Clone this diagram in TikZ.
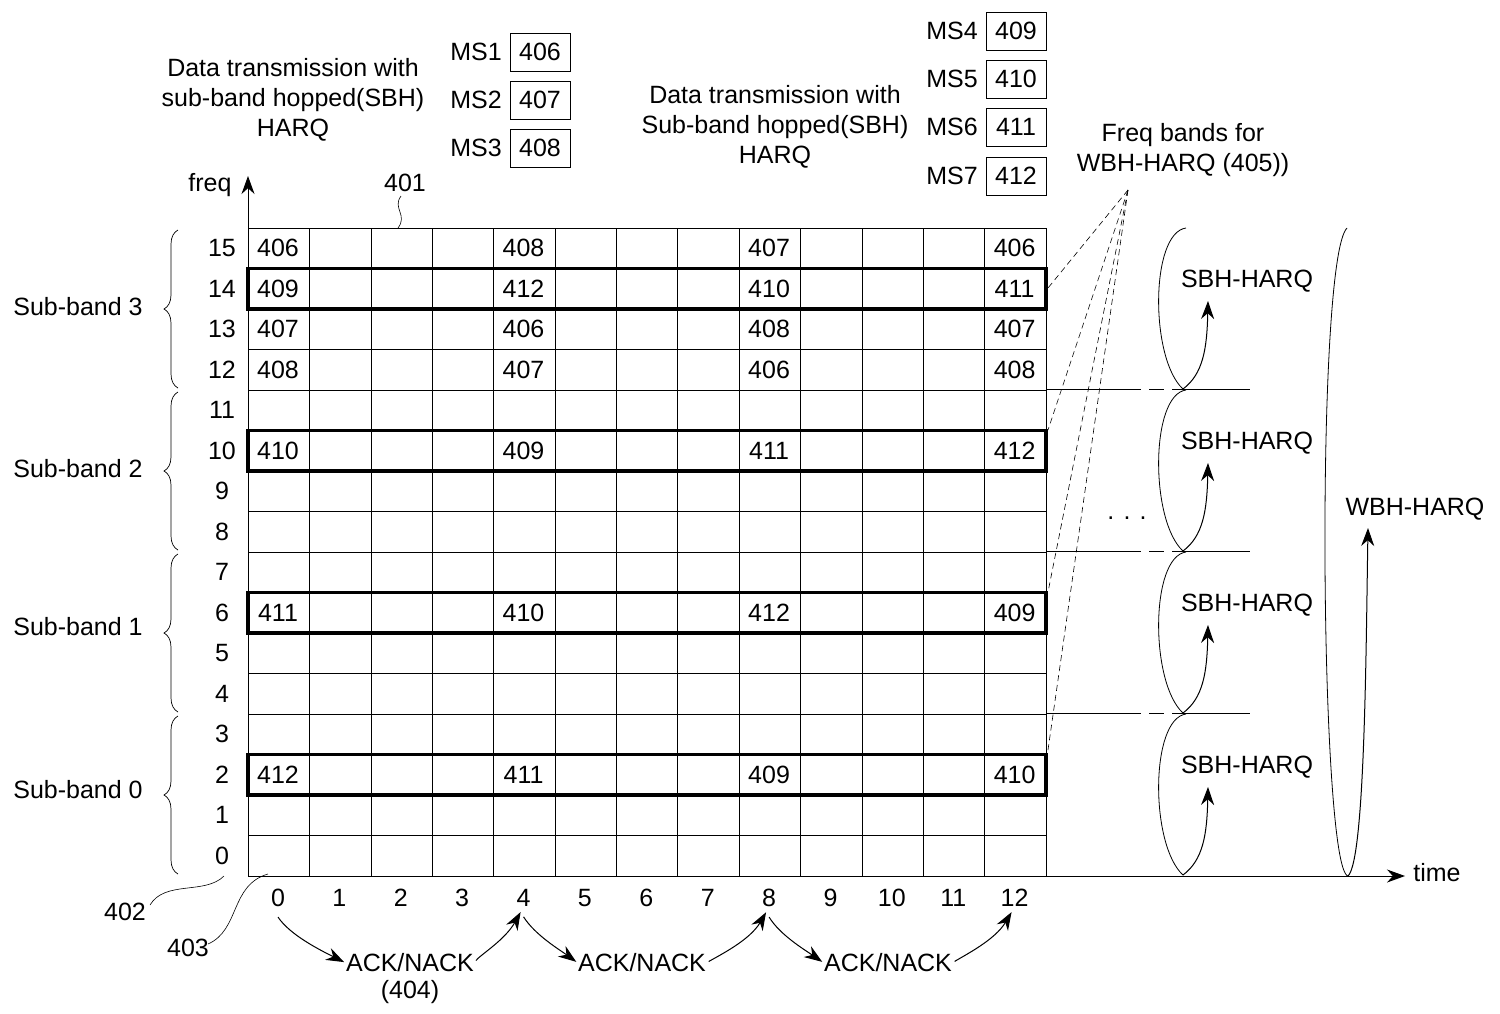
\documentclass[tikz,border=0pt]{standalone}
\usepackage{fontspec}
\setmainfont{Liberation Sans}
\usetikzlibrary{arrows.meta,decorations.pathreplacing}
\begin{document}
\begin{tikzpicture}[x=1pt,y=-1pt,
  txt/.style={font=\fontsize{25}{28}\selectfont,inner sep=0pt},
  cell/.style={txt},
  thickbox/.style={line width=3.4pt},
  arr/.style={-{Stealth[length=18pt,width=13pt]},line width=1pt},
  msbox/.style={draw,line width=1pt,minimum width=60pt,minimum height=38pt,txt},
  bandline/.style={line width=0.6pt,dash pattern=on 95pt off 8pt on 15pt off 8pt}]
\useasboundingbox (0,0) rectangle (1500,1013);
\def\cw{61.385}\def\rh{40.5}
% grid
\foreach \i in {0,...,13} \draw[line width=0.5pt] (248+\i*\cw,228) -- (248+\i*\cw,876);
\foreach \j in {0,...,15} \draw[line width=0.5pt] (248,876-\j*\rh) -- (1046,876-\j*\rh);
\draw[line width=0.5pt] (248,228) -- (1046,228);
% thick boxes
\foreach \r in {14,10,6,2} \draw[thickbox] (248,876-\r*\rh-\rh) rectangle (1046,876-\r*\rh);
% axes
\coordinate (o) at (248,876);
\coordinate (ft) at (248,176);
\coordinate (tt) at (1405,876);
\draw[arr] (o) -- (ft);
\draw[arr] (o) -- (tt);
\node[txt] (freq) at (210,185) {freq};
\node[txt] (time) at (1437,873) {time};
% row labels
\foreach \r in {0,...,15} \node[txt] (r\r) at (222,876-\r*\rh-\rh/2) {\r};
% column labels
\foreach \c in {0,...,12} \node[txt] (c\c) at (278+\c*\cw,898) {\c};
% cell numbers
\def\cellrow#1#2#3#4#5{%
 \node[cell] at (278,876-#1*\rh-\rh/2) {#2};
 \node[cell] at (278+4*\cw,876-#1*\rh-\rh/2) {#3};
 \node[cell] at (278+8*\cw,876-#1*\rh-\rh/2) {#4};
 \node[cell] at (278+12*\cw,876-#1*\rh-\rh/2) {#5};}
\cellrow{15}{406}{408}{407}{406}
\cellrow{14}{409}{412}{410}{411}
\cellrow{13}{407}{406}{408}{407}
\cellrow{12}{408}{407}{406}{408}
\cellrow{10}{410}{409}{411}{412}
\cellrow{6}{411}{410}{412}{409}
\cellrow{2}{412}{411}{409}{410}
% braces
\foreach \b in {0,1,2,3} {
  \draw[decorate,decoration={brace,amplitude=14pt},line width=0.7pt]
    (178,874-\b*162) -- (178,716-\b*162);
}
\node[txt] (sb3) at (78,307) {Sub-band 3};
\node[txt] (sb2) at (78,469) {Sub-band 2};
\node[txt] (sb1) at (78,627) {Sub-band 1};
\node[txt] (sb0) at (78,790) {Sub-band 0};
% titles
\node[txt,align=center] (t1) at (293,100) {Data transmission with\\[2pt]sub-band hopped(SBH)\\[2pt]HARQ};
\node[txt,align=center] (t2) at (775,127) {Data transmission with\\[2pt]Sub-band hopped(SBH)\\[2pt]HARQ};
% MS boxes
\foreach \n/\v/\y in {1/406/52,2/407/100,3/408/148} {
  \node[txt] (ms\n) at (476,\y) {MS\n};
  \node[msbox] (b\n) at (540,\y) {\v};}
\foreach \n/\v/\y in {4/409/31,5/410/79,6/411/127,7/412/176} {
  \node[txt] (ms\n) at (952,\y) {MS\n};
  \node[msbox] (b\n) at (1016,\y) {\v};}
% reference labels
\node[txt] (l401) at (405,183) {401};
\coordinate (p401) at (398,228);
\draw[line width=0.6pt] (l401.south) ++(-4,4) .. controls (392,208) and (408,215) .. (p401);
\node[txt] (l402) at (125,912) {402};
\coordinate (p402) at (224,876);
\draw[line width=0.6pt] (150,905) .. controls (165,880) and (205,895) .. (p402);
\node[txt] (l403) at (188,948) {403};
\coordinate (p403) at (268,874);
\draw[line width=0.6pt] (208,944) .. controls (240,930) and (230,885) .. (p403);
% ack/nack
\node[txt] (a1) at (410,963) {ACK/NACK};
\node[txt] (a1b) at (410,992) {(404)};
\node[txt] (a2) at (642,963) {ACK/NACK};
\node[txt] (a3) at (888,963) {ACK/NACK};
\draw[arr,shorten >=2pt] (c0.south) ++(0,10) .. controls (290,935) and (320,950) .. (a1.west);
\draw[arr,shorten <=3pt,shorten >=6pt] (a1.east) .. controls (480,955) and (505,940) .. (c4.south);
\draw[arr,shorten >=2pt] (c4.south) ++(0,10) .. controls (535,935) and (560,950) .. (a2.west);
\draw[arr,shorten <=3pt,shorten >=6pt] (a2.east) .. controls (720,955) and (750,940) .. (c8.south);
\draw[arr,shorten >=2pt] (c8.south) ++(0,10) .. controls (780,935) and (805,950) .. (a3.west);
\draw[arr,shorten <=3pt,shorten >=6pt] (a3.east) .. controls (965,955) and (995,940) .. (c12.south);
% band boundary lines
\foreach \y in {389.5,551.5,713.5} \draw[bandline] (1046,\y) -- (1250,\y);
% freq bands label
\node[txt,align=center] (fb) at (1183,150) {Freq bands for\\[2pt]WBH-HARQ (405))};
\coordinate (fp) at (1128,190);
\foreach \y in {288,430,592,750}
  \draw[line width=0.6pt,dash pattern=on 6pt off 4pt] (fp) -- (1048,\y);
\node[txt] (dots) at (1127,518) {. . .};
% SBH loops
\foreach \k in {0,1,2,3} {
  \pgfmathsetmacro{\yb}{389+\k*162}
  \pgfmathsetmacro{\yt}{228+\k*162}
  \draw[line width=0.8pt] (1186,\yt) .. controls (1150,\yt+5) and (1150,\yb-30) .. (1183,\yb);
  \draw[arr] (1183,\yb) .. controls (1203,\yb-15) and (1207,\yb-40) .. (1208,\yb-88);
  \node[txt] (s\k) at (1247,\yb-108) {SBH-HARQ};
}
% WBH loop
\draw[line width=0.8pt] (1347,228) .. controls (1315,260) and (1320,870) .. (1348,876);
\draw[arr] (1348,876) .. controls (1365,860) and (1366,650) .. (1368,528);
\node[txt] (wbh) at (1415,509) {WBH-HARQ};
\end{tikzpicture}
\end{document}
